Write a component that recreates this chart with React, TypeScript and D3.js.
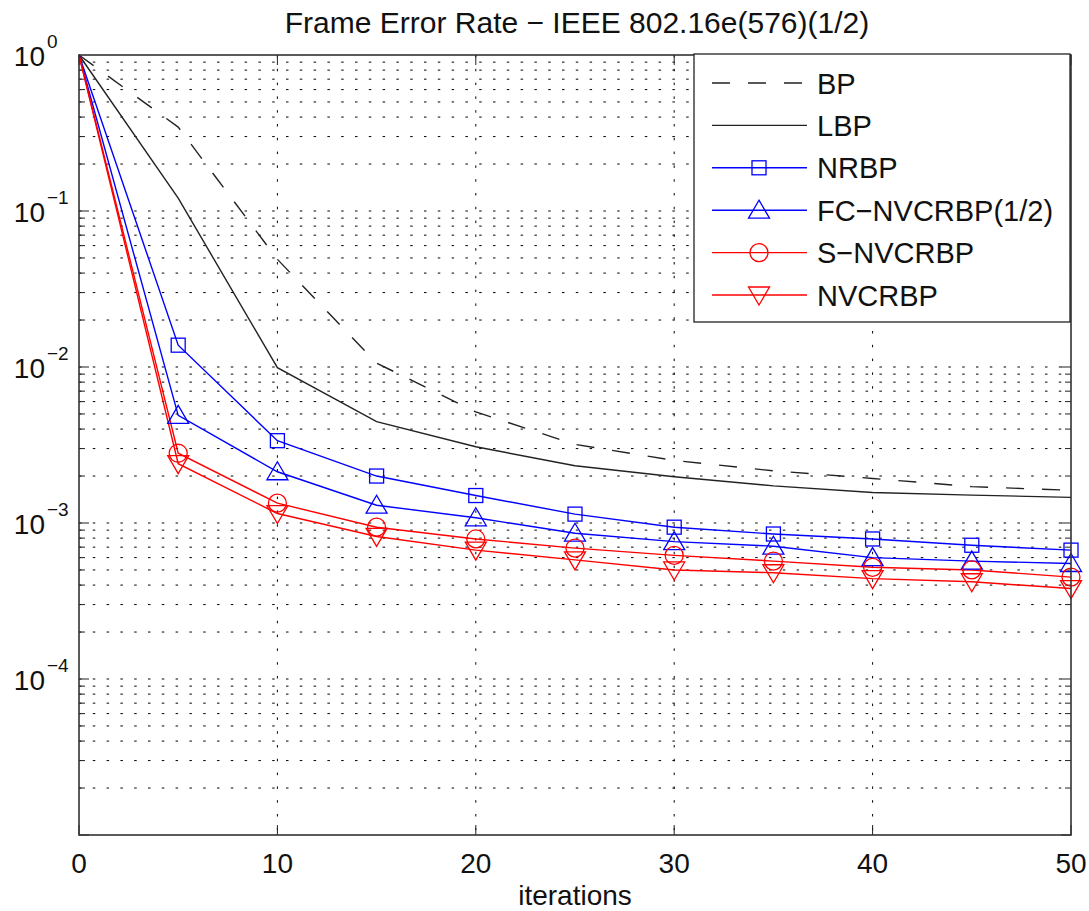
import React from "react";
import { scaleLinear, scaleLog, line, range } from "d3";

// frame error rate vs. decoder iterations
const iters = [0, 5, 10, 15, 20, 25, 30, 35, 40, 45, 50];
const bp = [1, 0.345, 0.049, 0.0106, 0.00515, 0.00319, 0.00252, 0.00216, 0.00193, 0.00171, 0.00162];
const lbp = [1, 0.121, 0.0099, 0.00446, 0.00308, 0.00233, 0.00198, 0.00173, 0.00157, 0.00151, 0.00146];
const nrbp = [1, 0.0138, 0.00337, 0.002, 0.0015, 0.00114, 0.00094, 0.00085, 0.00079, 0.00072, 0.00067];
const fcNvcrbp = [1, 0.0049, 0.00213, 0.0013, 0.00108, 0.00086, 0.00076, 0.00071, 0.0006, 0.00057, 0.00055];
const sNvcrbp = [1, 0.0028, 0.00134, 0.00094, 0.00079, 0.00069, 0.00062, 0.00057, 0.00052, 0.0005, 0.00045];
const nvcrbp = [1, 0.0024, 0.00115, 0.00082, 0.00067, 0.00058, 0.0005, 0.00048, 0.00044, 0.00042, 0.00038];

const xTicks = [0, 10, 20, 30, 40, 50];
const yExponents = [0, -1, -2, -3, -4];

const series = [
  { name: "BP", values: bp, color: "#222", dash: "18 18", marker: "none" },
  { name: "LBP", values: lbp, color: "#222", dash: null, marker: "none" },
  { name: "NRBP", values: nrbp, color: "#0000ff", dash: null, marker: "square" },
  { name: "FC\u2212NVCRBP(1/2)", values: fcNvcrbp, color: "#0000ff", dash: null, marker: "up" },
  { name: "S\u2212NVCRBP", values: sNvcrbp, color: "#ff0000", dash: null, marker: "circle" },
  { name: "NVCRBP", values: nvcrbp, color: "#ff0000", dash: null, marker: "down" },
];

const FONT = "'Liberation Sans', Arial, Helvetica, sans-serif";

const Marker = ({ type, cx, cy, color }: { type: string; cx: number; cy: number; color: string }) => {
  const common = { fill: "none", stroke: color, strokeWidth: 1.3 };
  if (type === "square") return <rect x={cx - 7} y={cy - 7} width={14} height={14} {...common} />;
  if (type === "circle") return <circle cx={cx} cy={cy} r={9} {...common} />;
  if (type === "up")
    return <path d={`M${cx},${cy - 10}L${cx + 10.5},${cy + 8}L${cx - 10.5},${cy + 8}Z`} {...common} />;
  if (type === "down")
    return <path d={`M${cx},${cy + 10}L${cx + 10.5},${cy - 8}L${cx - 10.5},${cy - 8}Z`} {...common} />;
  return null;
};

const App = () => {
  const width = 1089;
  const height = 911;
  const left = 79, right = 1071, top = 55, bottom = 835;
  const x = scaleLinear().domain([0, 50]).range([left, right]);
  const y = scaleLog().domain([1e-5, 1]).range([bottom, top]);

  const gen = line<number>()
    .x((_, i) => x(iters[i]))
    .y((d) => y(d));

  const minorVals: number[] = [];
  range(-5, 0).forEach((e) => {
    range(1, 10).forEach((m) => minorVals.push(m * Math.pow(10, e)));
  });

  const legX = 694, legY = 54, legW = 376, legH = 268;

  return (
    <svg width={width} height={height} style={{ position: "absolute", left: 0, top: 0, background: "#fff" }} fontFamily={FONT}>
      <rect x={0} y={0} width={width} height={height} fill="#fff" />
      <text x={577} y={33} fontSize={30} textAnchor="middle" fill="#111">
        Frame Error Rate {"\u2212"} IEEE 802.16e(576)(1/2)
      </text>

      {/* dotted grid */}
      <g stroke="#000" strokeWidth={1} strokeDasharray="2.5 11.3">
        {minorVals
          .filter((v) => v > 1e-5)
          .map((v, i) => (
            <line key={"h" + i} x1={left} x2={right} y1={y(v)} y2={y(v)} />
          ))}
        {xTicks.slice(1, -1).map((t) => (
          <line key={"v" + t} x1={x(t)} x2={x(t)} y1={top} y2={bottom} />
        ))}
      </g>

      {/* ticks */}
      <g stroke="#222" strokeWidth={1}>
        {minorVals.map((v, i) => {
          const len = i % 9 === 0 ? 10 : 6;
          return (
            <g key={"t" + i}>
              <line x1={left} x2={left + len} y1={y(v)} y2={y(v)} />
              <line x1={right} x2={right - len} y1={y(v)} y2={y(v)} />
            </g>
          );
        })}
        {xTicks.map((t) => (
          <g key={"xt" + t}>
            <line x1={x(t)} x2={x(t)} y1={bottom} y2={bottom - 10} />
            <line x1={x(t)} x2={x(t)} y1={top} y2={top + 10} />
          </g>
        ))}
      </g>

      {/* data lines */}
      {series.map((s) => (
        <path
          key={s.name}
          d={gen(s.values) || ""}
          fill="none"
          stroke={s.color}
          strokeWidth={1.4}
          strokeDasharray={s.dash || undefined}
        />
      ))}
      {series.map((s) =>
        s.values.slice(1).map((v, i) => (
          <Marker key={s.name + i} type={s.marker} cx={x(iters[i + 1])} cy={y(v)} color={s.color} />
        ))
      )}

      {/* axes box */}
      <rect x={left} y={top} width={right - left} height={bottom - top} fill="none" stroke="#333" strokeWidth={1.6} />

      {/* tick labels */}
      {xTicks.map((t) => (
        <text key={"xl" + t} x={x(t)} y={873} fontSize={28} textAnchor="middle" fill="#111">
          {t}
        </text>
      ))}
      {yExponents.map((e) => (
        <g key={"yl" + e} fill="#111">
          <text x={45} y={y(Math.pow(10, e)) + 11} fontSize={28} textAnchor="end">
            10
          </text>
          <text x={47} y={y(Math.pow(10, e)) - 7} fontSize={19}>
            {e === 0 ? "0" : "\u2212" + -e}
          </text>
        </g>
      ))}
      <text x={(left + right) / 2} y={905} fontSize={28} textAnchor="middle" fill="#111">
        iterations
      </text>

      {/* legend */}
      <rect x={legX} y={legY} width={legW} height={legH} fill="#fff" stroke="#222" strokeWidth={1.3} />
      {series.map((s, i) => {
        const cy = 83 + i * 42.4;
        return (
          <g key={"lg" + s.name}>
            <line
              x1={712}
              x2={807}
              y1={cy}
              y2={cy}
              stroke={s.color}
              strokeWidth={1.4}
              strokeDasharray={s.dash || undefined}
            />
            <Marker type={s.marker} cx={759} cy={cy} color={s.color} />
            <text x={817} y={cy + 10.5} fontSize={29} fill="#111">
              {s.name}
            </text>
          </g>
        );
      })}
    </svg>
  );
};

export default App;
